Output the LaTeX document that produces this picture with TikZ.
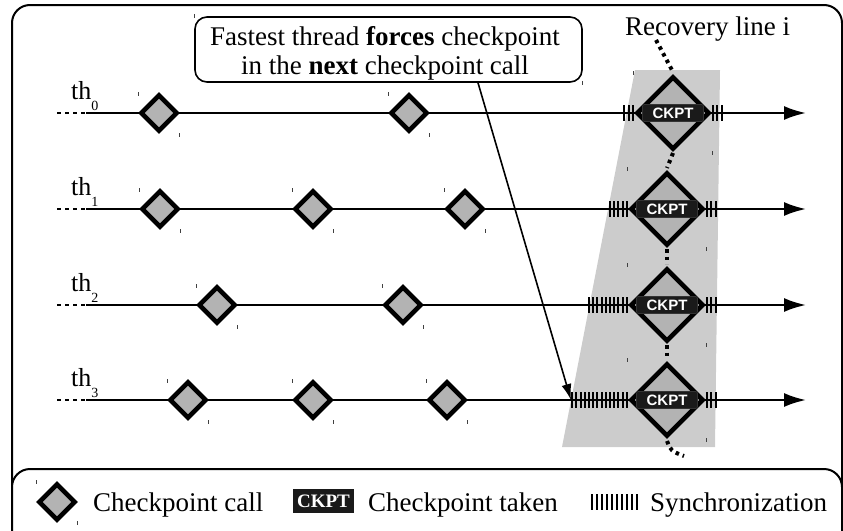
\documentclass[tikz,border=0pt]{standalone}
\usepackage{fontspec}
\setmainfont{Liberation Serif}
\setsansfont{Liberation Sans}
\usetikzlibrary{arrows.meta,shapes.geometric,calc}

\definecolor{callgray}{HTML}{B3B3B3}
\definecolor{linegray}{HTML}{CCCCCC}
\definecolor{ckptblack}{HTML}{1A1A1A}

\begin{document}
\begin{tikzpicture}[x=1pt,y=-1pt,
  frame/.style={draw=black,line width=2pt,rounded corners=18pt},
  threadline/.style={line width=2.2pt,-{Latex[length=22pt,width=14pt]}},
  threaddash/.style={line width=2.2pt,dash pattern=on 4pt off 4pt},
  callnode/.style={diamond,draw=black,fill=callgray,line width=4.6pt,
    minimum width=37pt,minimum height=37pt,inner sep=0pt},
  takennode/.style={diamond,draw=black,fill=callgray,line width=4.6pt,
    minimum width=73pt,minimum height=73pt,inner sep=0pt},
  ckptlabel/.style={fill=ckptblack,draw=black!80,line width=0.6pt,rounded corners=1.5pt,
    text=white,font=\sffamily\bfseries\fontsize{15}{15}\selectfont,
    minimum width=61pt,minimum height=17pt,inner sep=0pt},
  synctick/.style={line width=1.9pt},
  recovery/.style={line width=4pt,dash pattern=on 3.5pt off 4pt},
  cornermark/.style={draw=black!75,line width=0.9pt},
  thlabel/.style={anchor=base west,inner sep=0pt,font=\fontsize{26}{26}\selectfont},
  bigtext/.style={inner sep=0pt,font=\fontsize{27}{29}\selectfont},
]
\useasboundingbox (0,0) rectangle (843,530);

% outer frame
\draw[frame] (12,500) -- (12,5) -- (842,5) -- (842,500);

% recovery-line band
\fill[linegray] (635,70) -- (720,70) -- (715,447) -- (562,447) -- cycle;

% threads: dashed lead-in, solid line with arrow
\foreach \k/\y in {0/113,1/209,2/305,3/400}{
  \coordinate (t\k a) at (57,\y);
  \coordinate (t\k b) at (86,\y);
  \coordinate (t\k e) at (806,\y);
  \draw[threaddash] (t\k a) -- (t\k b);
  \draw[threadline] (t\k b) -- (t\k e);
  \node[thlabel] (lab\k) at (71,\y-14)
    {th\raisebox{-11pt}{\fontsize{14}{14}\selectfont\k}};
}

% checkpoint calls
\node[callnode] (c01) at (159,113) {};
\node[callnode] (c02) at (409,113) {};
\node[callnode] (c11) at (160,209) {};
\node[callnode] (c12) at (313,209) {};
\node[callnode] (c13) at (465,209) {};
\node[callnode] (c21) at (217,305) {};
\node[callnode] (c22) at (403,305) {};
\node[callnode] (c31) at (188,400) {};
\node[callnode] (c32) at (313,400) {};
\node[callnode] (c33) at (447,400) {};

% synchronization ticks around the taken checkpoints
\coordinate (k0) at (673,113);
\coordinate (k1) at (667,209);
\coordinate (k2) at (667,305);
\coordinate (k3) at (667,400);
\foreach \k/\n in {0/3,1/5,2/10,3/14}{
  \foreach \i in {1,...,\n}{
    \draw[synctick] ([xshift=-36pt-4.2pt*\i]k\k) ++(0,-8) -- ++(0,16);
  }
  \foreach \i in {1,2,3}{
    \draw[synctick] ([xshift=36pt+4.2pt*\i]k\k) ++(0,-8) -- ++(0,16);
  }
}

% recovery line
\coordinate (rtop) at (656,40);
\coordinate (rbot) at (684,456);
\draw[recovery] (rtop) -- (k0|-0,72);
\draw[recovery] (673,153) -- (667,168);
\draw[recovery] (667,249) -- (667,264);
\draw[recovery] (667,345) -- (667,359);
\draw[recovery] (667,441) .. controls (671,451) .. (rbot);

% taken checkpoints
\foreach \k in {0,1,2,3}{
  \node[takennode] (b\k) at (k\k) {};
  \node[ckptlabel] (ck\k) at (k\k) {CKPT};
}

\node[anchor=base west,inner sep=0pt,font=\fontsize{27}{27}\selectfont] (reclabel) at (625,35) {Recovery line i};

% callout
\node[draw=black,line width=1.6pt,rounded corners=12pt,minimum width=387pt,
  minimum height=65pt,inner sep=0pt] (callout) at (388.5,49.5) {};
\node[bigtext,anchor=base] (cl1) at (385,45) {Fastest thread \textbf{forces} checkpoint};
\node[bigtext,anchor=base] (cl2) at (385,74) {in the \textbf{next} checkpoint call};
\coordinate (forced) at (571,400);
\draw[line width=1.6pt,-{Latex[length=16pt,width=10pt]}]
  ([xshift=89.5pt]callout.south) -- (forced);

% small corner marks
\foreach \n in {c01,c02,c11,c12,c13,c21,c22,c31,c32,c33}{
  \draw[cornermark] ([shift={(-21,-21)}]\n.center) -- ++(0,4);
  \draw[cornermark] ([shift={(20,20)}]\n.center) -- ++(0,4);
}
\foreach \n in {b0,b1,b2,b3}{
  \draw[cornermark] ([shift={(-40,-42)}]\n.center) -- ++(0,4);
  \draw[cornermark] ([shift={(39,38)}]\n.center) -- ++(0,4);
}
\draw[cornermark] (callout.north west) ++(0,-2) -- ++(0,4);
\draw[cornermark] (callout.south east) ++(0,-2) -- ++(0,4);

% legend
\draw[frame,fill=white] (12,560) -- (12,469) -- (842,469) -- (842,560);
\node[callnode] (legcall) at (57,502) {};
\draw[cornermark] ([shift={(-21,-22)}]legcall.center) -- ++(0,4);
\draw[cornermark] ([shift={(20,19)}]legcall.center) -- ++(0,4);
\node[anchor=base west,inner sep=0pt,font=\fontsize{27}{27}\selectfont] (legcalltext) at (93,511) {Checkpoint call};
\node[fill=ckptblack,text=white,font=\bfseries\fontsize{19}{19}\selectfont,
  minimum width=61pt,minimum height=24pt,inner sep=0pt] (legckpt) at (323.5,501) {CKPT};
\node[anchor=base west,inner sep=0pt,font=\fontsize{27}{27}\selectfont] (legckpttext) at (368,511) {Checkpoint taken};
\coordinate (legsync) at (592,494);
\foreach \i in {0,...,9}{
  \draw[line width=1.8pt] ([xshift=5pt*\i]legsync) -- ++(0,16);
}
\node[anchor=base west,inner sep=0pt,font=\fontsize{27}{27}\selectfont] (legsynctext) at (650,511) {Synchronization};
\end{tikzpicture}
\end{document}
